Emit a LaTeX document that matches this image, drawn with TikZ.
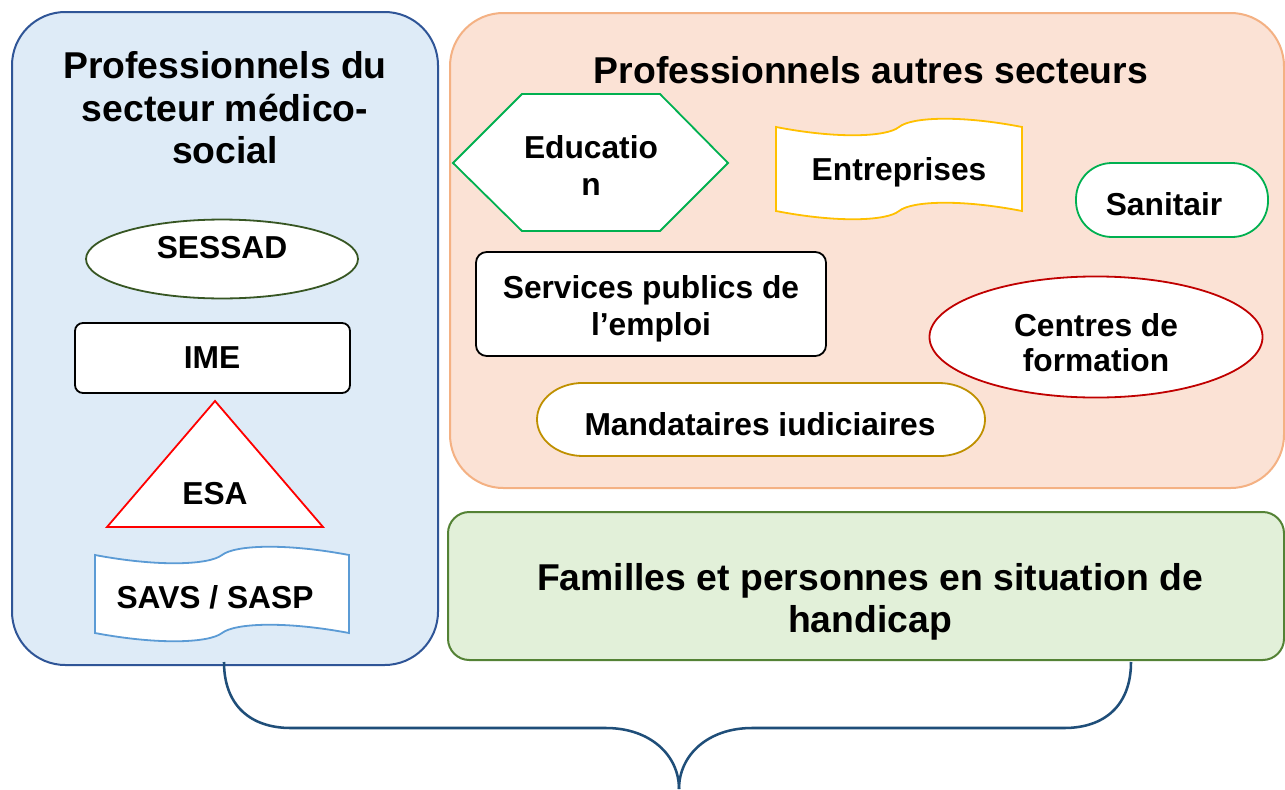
\documentclass[tikz,border=0pt]{standalone}
\usepackage{fontspec}
\setmainfont{Liberation Sans}
\definecolor{bluefill}{HTML}{DEEBF7}
\definecolor{blueline}{HTML}{2F5597}
\definecolor{peachfill}{HTML}{FBE2D5}
\definecolor{peachline}{HTML}{F4B183}
\definecolor{greenfill}{HTML}{E2F0D9}
\definecolor{greenline}{HTML}{548235}
\definecolor{darkgreen}{HTML}{375623}
\definecolor{brightgreen}{HTML}{00B050}
\definecolor{savsblue}{HTML}{5B9BD5}
\definecolor{gold}{HTML}{FFC000}
\definecolor{darkgold}{HTML}{BF9000}
\definecolor{darkred}{HTML}{C00000}
\definecolor{bracecol}{HTML}{1F4E79}
\tikzset{
  panel/.style={line width=1.5pt},
  shapebox/.style={fill=white,line width=1.35pt},
  title/.style={font=\fontsize{28}{32}\selectfont\bfseries,anchor=base,inner sep=0pt},
  label/.style={font=\fontsize{23.8}{28}\selectfont\bfseries,anchor=base,inner sep=0pt},
  bracepath/.style={draw=bracecol,line width=1.9pt}
}
\begin{document}
\begin{tikzpicture}[x=0.75pt,y=-0.75pt]
\useasboundingbox (0,0) rectangle (1285,789);
\fill[white] (0,0) rectangle (1285,789);

% panels
\draw[panel,draw=blueline,fill=bluefill,rounded corners=40pt] (12,12) rectangle (438,665);
\draw[panel,draw=peachline,fill=peachfill,rounded corners=40pt] (450,13) rectangle (1284,488);
\draw[panel,draw=greenline,fill=greenfill,rounded corners=16pt] (448,512) rectangle (1284,660);

% left panel title
\node[title] (tl1) at (225,78) {Professionnels du};
\node[title] (tl2) at (225,121) {secteur médico-};
\node[title] (tl3) at (225,163) {social};

% SESSAD
\draw[shapebox,draw=darkgreen] (222,259) ellipse [x radius=102pt, y radius=29.6pt];
\node[label] (sessad) at (222,258) {SESSAD};

% IME
\draw[shapebox,draw=black,rounded corners=6pt] (75,323) rectangle (350,393);
\node[label] (ime) at (212,368) {IME};

% ESA
\draw[shapebox,draw=red] (215,401) -- (323,527) -- (107,527) -- cycle;
\node[label] (esa) at (215,504) {ESA};

% SAVS / SASP wave
\draw[shapebox,draw=savsblue]
  (95,555) .. controls (158.5,567) and (209,565) .. (222,555)
  .. controls (235,545) and (285.5,543) .. (349,555)
  -- (349,633)
  .. controls (285.5,621) and (235,623) .. (222,633)
  .. controls (209,643) and (158.5,645) .. (95,633) -- cycle;
\node[label] (savs) at (215,608) {SAVS / SASP};

% right panel title
\node[title] (tr) at (871,83) {Professionnels autres secteurs};

% Education hexagon
\draw[shapebox,draw=brightgreen] (453,163) -- (522,94) -- (660,94) -- (728,163) -- (660,231) -- (522,231) -- cycle;
\node[label] (edu1) at (591,158) {Educatio};
\node[label] (edu2) at (591,195) {n};

% Entreprises wave
\draw[shapebox,draw=gold]
  (776,127) .. controls (837.5,139) and (886.7,137) .. (899,127)
  .. controls (911.3,117) and (960.5,115) .. (1022,127)
  -- (1022,211)
  .. controls (960.5,199) and (911.3,201) .. (899,211)
  .. controls (886.7,221) and (837.5,223) .. (776,211) -- cycle;
\node[label] (entr) at (899,180) {Entreprises};

% Sanitair
\draw[shapebox,draw=brightgreen,rounded corners=27pt] (1076,163) rectangle (1268,237);
\node[label] (sani) at (1164,215) {Sanitair};

% Services publics de l'emploi
\draw[shapebox,draw=black,rounded corners=8pt] (476,252) rectangle (826,356);
\node[label] (spe1) at (651,298) {Services publics de};
\node[label] (spe2) at (651,335) {l’emploi};

% Centres de formation
\draw[shapebox,draw=darkred] (1096,337) ellipse [x radius=124.9pt, y radius=45.4pt];
\node[label] (cf1) at (1096,336) {Centres de};
\begin{scope}
\clip (950,340) rectangle (1240,371.5);
\node[label] (cf2) at (1096,371) {formation};
\end{scope}

% Mandataires judiciaires (terminator with elliptic ends)
\draw[shapebox,draw=darkgold] (583,383) -- (939,383)
  arc[start angle=90, end angle=-90, x radius=34.5pt, y radius=27.4pt]
  -- (583,456)
  arc[start angle=270, end angle=90, x radius=34.5pt, y radius=27.4pt] -- cycle;
\begin{scope}
\clip (545,395) rectangle (975,435.8);
\node[label] (mand) at (760,435) {Mandataires judiciaires};
\end{scope}

% Familles
\node[title] (fam1) at (870,590) {Familles et personnes en situation de};
\node[title] (fam2) at (870,632) {handicap};

% brace
\coordinate (bleft) at (224,662);
\coordinate (bright) at (1131,662);
\coordinate (btip) at (679,789);
\draw[bracepath] (bleft) .. controls (224,705) and (250,728) .. (291,728) -- (606,728)
  .. controls (650,728) and (679,755) .. (btip);
\draw[bracepath] (bright) .. controls (1131,705) and (1105,728) .. (1064,728) -- (752,728)
  .. controls (708,728) and (679,755) .. (btip);
\end{tikzpicture}
\end{document}
